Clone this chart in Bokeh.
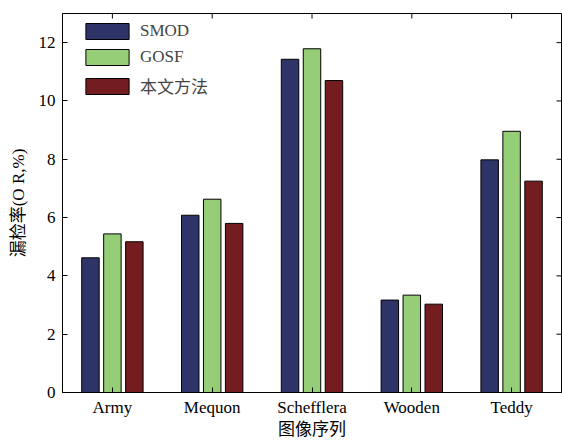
import numpy as np
from bokeh.plotting import figure
from bokeh.models import ColumnDataSource, FixedTicker, Range1d, Legend, LegendItem
from bokeh.embed import file_html
from bokeh.resources import INLINE

categories = ["Army", "Mequon", "Schefflera", "Wooden", "Teddy"]
series_names = ["SMOD", "GOSF", "本文方法"]
smod = [4.62, 6.08, 11.43, 3.17, 7.98]
gosf = [5.44, 6.63, 11.79, 3.34, 8.96]
ours = [5.17, 5.80, 10.70, 3.03, 7.25]
y_ticks = [0, 2, 4, 6, 8, 10, 12]

colors = ["#2F3468", "#96CE78", "#731D21"]
offsets = [-0.22, 0.0, 0.22]
bar_w = 0.175

FONT = "'Liberation Serif', 'Noto Sans CJK SC', serif"

idx = np.arange(1, len(categories) + 1)
x_lo, x_hi = 0.5, len(categories) + 0.5
y_lo, y_hi = 0, 13

p = figure(width=562, height=441, output_backend="svg", toolbar_location=None,
           x_range=Range1d(x_lo, x_hi), y_range=Range1d(y_lo, y_hi),
           min_border_left=62, min_border_top=13, min_border_right=1, min_border_bottom=48)
p.background_fill_color = "white"
p.border_fill_color = "white"
p.outline_line_color = "black"
p.outline_line_width = 1
p.xgrid.visible = False
p.ygrid.visible = False

items = []
for name, vals, c, off in zip(series_names, [smod, gosf, ours], colors, offsets):
    src = ColumnDataSource(dict(x=idx + off, top=vals))
    r = p.vbar(x="x", top="top", width=bar_w, bottom=0, source=src,
               fill_color=c, line_color="black", line_width=1)
    items.append(LegendItem(label=name, renderers=[r]))

def style_axis(ax):
    ax.axis_line_color = "black"
    ax.axis_line_width = 1
    ax.major_tick_in = 5
    ax.major_tick_out = 0
    ax.minor_tick_line_color = None
    ax.major_tick_line_color = "black"
    ax.major_label_text_font = FONT
    ax.major_label_text_font_size = "17px"
    ax.major_label_text_color = "black"
    ax.axis_label_text_font = FONT
    ax.axis_label_text_font_size = "17px"
    ax.axis_label_text_font_style = "normal"
    ax.axis_label_text_color = "black"

xa = p.xaxis[0]
xa.ticker = FixedTicker(ticks=list(idx))
xa.major_label_overrides = {int(i): c for i, c in zip(idx, categories)}
xa.axis_label = "图像序列"
xa.major_label_standoff = 5
xa.axis_label_standoff = 0
style_axis(xa)

ya = p.yaxis[0]
ya.ticker = FixedTicker(ticks=y_ticks)
ya.axis_label = "漏检率(O R,%)"
ya.major_label_standoff = 7
ya.axis_label_standoff = 8
style_axis(ya)

# mirrored inward ticks on the top and right frame edges
p.ray(x=list(idx), y=[y_hi] * len(idx), length=5, length_units="screen",
      angle=-np.pi / 2, line_color="black", line_width=1)
p.ray(x=[x_hi] * len(y_ticks), y=y_ticks, length=5, length_units="screen",
      angle=np.pi, line_color="black", line_width=1)

legend = Legend(items=items, location=(18, 294), orientation="vertical",
                glyph_width=54, glyph_height=20, label_height=20,
                spacing=6, padding=0, margin=0, label_standoff=6,
                label_text_font=FONT, label_text_font_size="17px",
                border_line_color=None, background_fill_alpha=0)
p.add_layout(legend, "center")

open("out.html", "w").write(file_html(p, INLINE))
